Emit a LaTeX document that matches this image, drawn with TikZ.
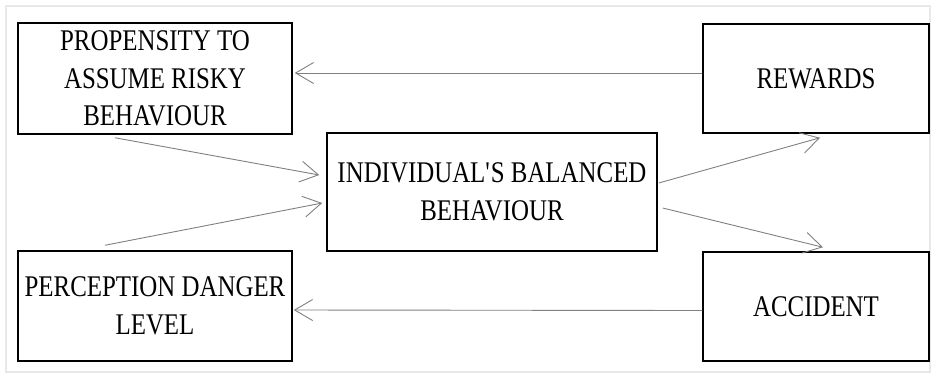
\documentclass[tikz,border=0pt]{standalone}
\usepackage{fontspec}
\setmainfont[FakeStretch=0.83]{Liberation Serif}
\usetikzlibrary{arrows.meta}

\tikzset{
  box/.style={draw=black, line width=1.5pt, inner sep=0pt, align=center,
    font=\fontsize{30}{37.5}\selectfont},
  link/.style={draw=black!50, line width=0.9pt,
    -{Straight Barb[length=18pt,width=21pt,line width=0.9pt]}}
}

\begin{document}
\begin{tikzpicture}[x=1pt, y=-1pt]
  \useasboundingbox (0,0) rectangle (932,376);
  % outer frame
  \draw[black!9, line width=2.5pt] (6,6) rectangle (930,372);

  % boxes
  \node[box, minimum width=274pt, minimum height=111pt] (prop) at (155,78.5)
    {PROPENSITY TO\\ASSUME RISKY\\BEHAVIOUR};
  \node[box, minimum width=226pt, minimum height=109pt] (rew) at (816,78.5)
    {REWARDS};
  \node[box, minimum width=330pt, minimum height=118pt] (ind) at (492,192)
    {INDIVIDUAL\textquotesingle S BALANCED\\BEHAVIOUR};
  \node[box, minimum width=274pt, minimum height=110pt] (perc) at (155,306)
    {PERCEPTION DANGER\\LEVEL};
  \node[box, minimum width=226pt, minimum height=109pt] (acc) at (816,306.5)
    {ACCIDENT};

  % feedback links
  \draw[link] ([yshift=5.5pt]rew.west) -- ([xshift=2pt,yshift=5.5pt]prop.east);
  \draw[link] ([yshift=-4pt]acc.west) -- ([xshift=1pt,yshift=-4pt]perc.east);

  % inputs to the balanced behaviour
  \draw[link] ([xshift=-40pt,yshift=-3pt]prop.south) -- ([xshift=-7pt,yshift=17pt]ind.west);
  \draw[link] ([xshift=-50pt,yshift=5pt]perc.north) -- ([xshift=-4pt,yshift=-11pt]ind.west);

  % outcomes
  \draw[link] ([xshift=1pt,yshift=9pt]ind.east) -- ([xshift=4pt,yshift=-4pt]rew.south);
  \draw[link] ([xshift=5pt,yshift=-16pt]ind.east) -- ([xshift=7pt,yshift=4pt]acc.north);
\end{tikzpicture}
\end{document}
